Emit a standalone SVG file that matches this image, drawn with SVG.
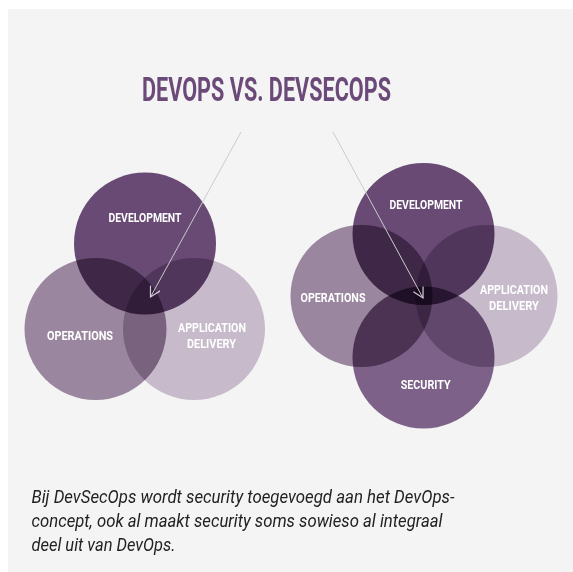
<svg xmlns="http://www.w3.org/2000/svg" width="573" height="572" viewBox="0 0 573 572">
  <style>
    .title { font-family: Roboto, "Liberation Sans", sans-serif; font-weight: 700; font-size: 33.5px; fill: #6b4a7a; }
    .lbl { font-family: Roboto, "Liberation Sans", sans-serif; font-weight: 700; font-size: 12.5px; fill: #ffffff; text-anchor: middle; }
    .cap { font-family: Roboto, "Liberation Sans", sans-serif; font-style: italic; font-size: 17.5px; fill: #222222; }
    .venn { isolation: isolate; }
    .venn circle { mix-blend-mode: multiply; }
    .dev { fill: #684a74; }
    .ops { fill: #9a869e; }
    .app { fill: #c7bacb; }
    .sec { fill: #7d6188; }
    .conn { stroke: #cbcbcb; stroke-width: 1; fill: none; }
  </style>
  <defs>
    <marker id="vhead" viewBox="-12 -6 14 12" markerWidth="14" markerHeight="12" refX="0" refY="0" orient="auto" markerUnits="userSpaceOnUse">
      <path d="M-10,-5.5 L0,0 L-10,5.5" fill="none" stroke="#d4ccd8" stroke-width="1.2"/>
    </marker>
  </defs>

  <rect x="0" y="0" width="573" height="572" fill="#ffffff"/>
  <rect x="8" y="9" width="565" height="563" fill="#f4f4f4"/>

  <text class="title" x="142" y="101" textLength="249" lengthAdjust="spacingAndGlyphs">DEVOPS VS. DEVSECOPS</text>

  <!-- DevOps: three circles -->
  <g class="venn" id="devops">
    <g id="devops-development"><circle class="dev" cx="145" cy="243.5" r="71"/></g>
    <g id="devops-operations"><circle class="ops" cx="95.5" cy="329" r="71"/></g>
    <g id="devops-delivery"><circle class="app" cx="194" cy="329" r="71"/></g>
  </g>

  <!-- DevSecOps: four circles -->
  <g class="venn" id="devsecops">
    <g id="devsecops-development"><circle class="dev" cx="423.5" cy="234" r="71"/></g>
    <g id="devsecops-operations"><circle class="ops" cx="361.5" cy="296" r="71"/></g>
    <g id="devsecops-delivery"><circle class="app" cx="486.5" cy="296" r="71"/></g>
    <g id="devsecops-security"><circle class="sec" cx="423.5" cy="357.5" r="71"/></g>
  </g>

  <g id="labels">
    <text class="lbl" x="145" y="222" textLength="73" lengthAdjust="spacingAndGlyphs">DEVELOPMENT</text>
    <text class="lbl" x="80" y="340" textLength="66" lengthAdjust="spacingAndGlyphs">OPERATIONS</text>
    <text class="lbl" x="212" y="332" textLength="68" lengthAdjust="spacingAndGlyphs">APPLICATION</text>
    <text class="lbl" x="211.5" y="347.5" textLength="49" lengthAdjust="spacingAndGlyphs">DELIVERY</text>

    <text class="lbl" x="426" y="209" textLength="73" lengthAdjust="spacingAndGlyphs">DEVELOPMENT</text>
    <text class="lbl" x="333" y="302" textLength="65" lengthAdjust="spacingAndGlyphs">OPERATIONS</text>
    <text class="lbl" x="514" y="294" textLength="68" lengthAdjust="spacingAndGlyphs">APPLICATION</text>
    <text class="lbl" x="514" y="309.5" textLength="50" lengthAdjust="spacingAndGlyphs">DELIVERY</text>
    <text class="lbl" x="425.7" y="389" textLength="50" lengthAdjust="spacingAndGlyphs">SECURITY</text>
  </g>

  <g id="connectors">
    <line class="conn" x1="241" y1="132" x2="150.5" y2="297" marker-end="url(#vhead)"/>
    <line class="conn" x1="333" y1="132" x2="423" y2="298" marker-end="url(#vhead)"/>
  </g>

  <g id="caption">
    <text class="cap" x="31.5" y="502.5" textLength="423" lengthAdjust="spacingAndGlyphs">Bij DevSecOps wordt security toegevoegd aan het DevOps-</text>
    <text class="cap" x="31.5" y="526.5" textLength="411" lengthAdjust="spacingAndGlyphs">concept, ook al maakt security soms sowieso al integraal</text>
    <text class="cap" x="31.5" y="550.5" textLength="144" lengthAdjust="spacingAndGlyphs">deel uit van DevOps.</text>
  </g>
</svg>
